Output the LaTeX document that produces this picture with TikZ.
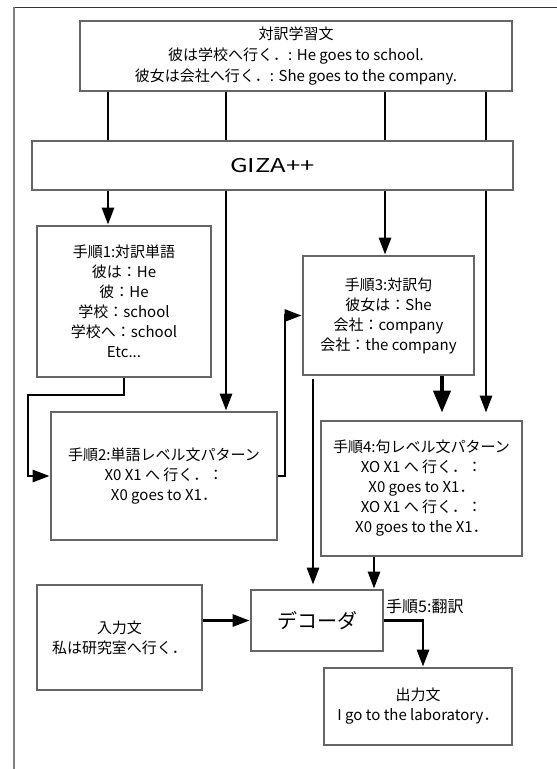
\documentclass[tikz,border=0pt]{standalone}
\usepackage{fontspec}
\usepackage{graphicx}
\setmainfont{Noto Sans CJK JP}
\usetikzlibrary{arrows.meta,calc}
\definecolor{boxgray}{HTML}{666666}
\definecolor{framegray}{HTML}{808080}
\definecolor{frametop}{HTML}{333333}
\begin{document}
\begin{tikzpicture}[x=1pt,y=-1pt,
  box/.style={draw=boxgray,line width=2.8pt,fill=white,align=center,inner sep=0pt,
    font=\fontsize{15}{20}\selectfont},
  conn/.style={line width=2.8pt,draw=black},
  arr/.style={conn,-{Triangle[length=17pt,width=12pt]}},
  bigarr/.style={line width=4pt,draw=black,-{Triangle[length=22pt,width=17pt]}},
  lbl/.style={font=\fontsize{16}{20}\selectfont,inner sep=0pt}]
\useasboundingbox (0,0) rectangle (557,769);
% outer frame
\draw[line width=1pt,draw=frametop] (14,7) -- (557,7);
\draw[line width=1.5pt,draw=framegray] (14,7) -- (14,769);
% column coordinates
\coordinate (cA) at (108,0);
\coordinate (cB) at (226,0);
\coordinate (cC) at (385,0);
\coordinate (cD) at (486,0);
\coordinate (cE) at (124,0);
\coordinate (cF) at (442,0);
\coordinate (cG) at (313,0);
\coordinate (cH) at (374,0);
\coordinate (cI) at (423,0);
\coordinate (k1) at (28,395);
\coordinate (k2) at (285,0);
% nodes
\node[box,minimum width=432pt,minimum height=70pt,font=\fontsize{15}{21}\selectfont] (src) at (296,56)
  {対訳学習文\\彼は学校へ行く．: He goes to school.\\彼女は会社へ行く．: She goes to the company.};
\node[box,minimum width=481pt,minimum height=49pt,font=\fontsize{19}{20}\selectfont] (giza) at (272.5,165.5)
  {\scalebox{1.35}[1]{GIZA++}};
\node[box,minimum width=174pt,minimum height=151pt] (s1) at (124,301.5)
  {手順1:対訳単語\\彼は：He\\彼：He\\学校：school\\学校へ：school\\Etc...};
\node[box,minimum width=226pt,minimum height=128pt] (s2) at (164,476)
  {手順2:単語レベル文パターン\\X0 X1 へ 行く．：\\X0 goes to X1．};
\node[box,minimum width=171pt,minimum height=119pt] (s3) at (388.5,315.5)
  {手順3:対訳句\\彼女は：She\\会社：company\\会社：the company};
\node[box,minimum width=201pt,minimum height=135pt] (s4) at (421.5,488.5)
  {手順4:句レベル文パターン\\XO X1 へ 行く．：\\X0 goes to X1．\\XO X1 へ 行く．：\\X0 goes to the X1．};
\node[box,minimum width=132pt,minimum height=61pt,font=\fontsize{20}{22}\selectfont] (dec) at (317,620.5)
  {デコーダ};
\node[box,minimum width=165pt,minimum height=105pt] (in) at (119.5,637.5)
  {入力文\\私は研究室へ行く．};
\node[box,minimum width=188pt,minimum height=77pt] (out) at (418,706.5)
  {出力文\\I go to the laboratory．};
\node[lbl,anchor=west] (step5) at (386,606) {手順5:翻訳};
% connectors: source -> GIZA
\draw[conn] (src.south -| cA) -- (giza.north -| cA);
\draw[conn] (src.south -| cB) -- (giza.north -| cB);
\draw[conn] (src.south -| cC) -- (giza.north -| cC);
\draw[conn] (src.south -| cD) -- (giza.north -| cD);
% GIZA -> steps
\draw[arr] (giza.south -| cA) -- (s1.north -| cA);
\draw[arr] (giza.south -| cB) -- (s2.north -| cB);
\draw[arr] (giza.south -| cC) -- (s3.north -| cC);
\draw[arr,shorten >=7pt] (giza.south -| cD) -- (s4.north -| cD);
% step1 -> step2
\draw[arr] (s1.south -| cE) |- (k1) |- (s2.west);
% step2 -> step3
\draw[arr] (s2.east) -| (k2 |- s3.west) -- (s3.west);
% step3 -> step4
\draw[bigarr,shorten >=7pt] (s3.south -| cF) -- (s4.north -| cF);
% step3 -> decoder
\draw[arr,shorten <=3pt,shorten >=4pt] (s3.south -| cG) -- (dec.north -| cG);
% step4 -> decoder
\draw[arr] (s4.south -| cH) -- (dec.north -| cH);
% input -> decoder
\draw[arr] (in.east |- dec.west) -- (dec.west);
% decoder -> output
\draw[arr] (dec.east) -| (out.north -| cI);
\end{tikzpicture}
\end{document}
